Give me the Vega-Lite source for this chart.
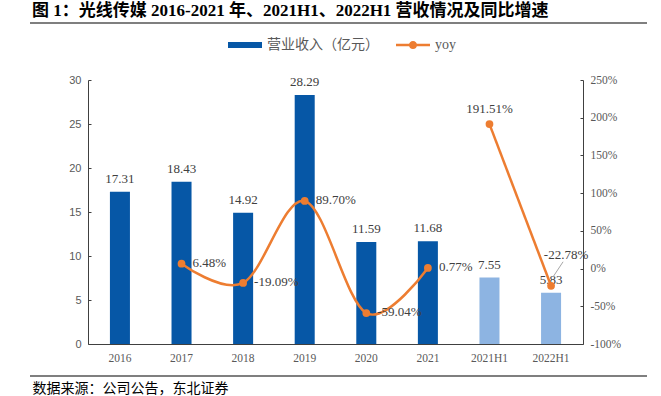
{
  "$schema": "https://vega.github.io/schema/vega-lite/v6.json",
  "width": 617,
  "height": 264,
  "autosize": {"type": "none"},
  "padding": {"left": 30, "top": 80, "right": 14, "bottom": 52},
  "background": "#ffffff",
  "title": {
    "text": "图 1：光线传媒 2016-2021 年、2021H1、2022H1 营收情况及同比增速",
    "anchor": "start",
    "frame": "group",
    "font": "Liberation Serif, Noto Sans CJK SC",
    "fontSize": 17,
    "fontWeight": "bold",
    "color": "#000000",
    "offset": 2,
    "dx": 2
  },
  "config": {
    "view": {"stroke": null},
    "axis": {"grid": false},
    "locale": {
      "number": {"decimal": ".", "thousands": ",", "grouping": [3], "currency": ["", ""], "minus": "-", "percent": "%"}
    },
    "text": {"font": "Liberation Serif", "fontSize": 13, "color": "#404040"}
  },
  "data": {
    "values": [
      {"cat": "2016", "period": "annual", "revenue": 17.31, "yoy": null},
      {"cat": "2017", "period": "annual", "revenue": 18.43, "yoy": 0.0648},
      {"cat": "2018", "period": "annual", "revenue": 14.92, "yoy": -0.1909},
      {"cat": "2019", "period": "annual", "revenue": 28.29, "yoy": 0.8970},
      {"cat": "2020", "period": "annual", "revenue": 11.59, "yoy": -0.5904},
      {"cat": "2021", "period": "annual", "revenue": 11.68, "yoy": 0.0077},
      {"cat": "2021H1", "period": "half", "revenue": 7.55, "yoy": 1.9151},
      {"cat": "2022H1", "period": "half", "revenue": 5.83, "yoy": -0.2278}
    ]
  },
  "layer": [
    {
      "encoding": {
        "x": {
          "field": "cat",
          "type": "ordinal",
          "sort": null,
          "scale": {"type": "band", "range": [58, 553], "paddingInner": 0.675, "paddingOuter": 0.356},
          "axis": {
            "title": null,
            "orient": "bottom",
            "domain": true,
            "domainColor": "#404040",
            "domainWidth": 1,
            "ticks": false,
            "labelAngle": 0,
            "labelFont": "Liberation Serif",
            "labelFontSize": 11.5,
            "labelColor": "#595959",
            "labelPadding": 8
          }
        }
      },
      "layer": [
        {
          "encoding": {
            "y": {
              "field": "revenue",
              "type": "quantitative",
              "scale": {"domain": [0, 30], "nice": false, "zero": true},
              "axis": {
                "title": null,
                "orient": "left",
                "offset": -58,
                "values": [0, 5, 10, 15, 20, 25, 30],
                "domain": true,
                "domainColor": "#404040",
                "ticks": true,
                "tickSize": -3,
                "tickColor": "#404040",
                "labelFont": "Liberation Sans",
                "labelFontSize": 11,
                "labelColor": "#595959",
                "labelPadding": 10
              }
            }
          },
          "layer": [
            {
              "mark": {"type": "bar"},
              "encoding": {
                "color": {
                  "condition": {"test": "datum.period === 'half'", "value": "#8DB4E2"},
                  "datum": "营业收入（亿元）",
                  "type": "nominal",
                  "scale": {"domain": ["营业收入（亿元）", "yoy"], "range": ["#0657A6", "#ED7D31"]},
                  "legend": {
                    "orient": "none",
                    "direction": "horizontal",
                    "legendX": 198,
                    "legendY": -52,
                    "title": null,
                    "symbolSize": 1156,
                    "labelOffset": 5,
                    "columnPadding": 17,
                    "labelFont": "Liberation Serif, Noto Sans CJK SC",
                    "labelFontSize": 14,
                    "labelColor": "#595959",
                    "labelLimit": 300,
                    "encode": {
                      "symbols": {
                        "update": {
                          "shape": {"signal": "datum.value === 'yoy' ? 'M-1,-0.07H1V0.07H-1Z M0.24,0A0.24,0.24 0 1,1 -0.24,0A0.24,0.24 0 1,1 0.24,0Z' : 'M-1,-0.17H1V0.17H-1Z'"},
                          "fill": {"signal": "datum.value === 'yoy' ? '#ED7D31' : '#0657A6'"},
                          "stroke": {"value": "transparent"},
                          "strokeWidth": {"value": 0},
                          "opacity": {"value": 1},
                          "size": {"value": 1156}
                        }
                      }
                    }
                  }
                }
              }
            },
            {
              "mark": {"type": "text", "baseline": "alphabetic", "dy": -9},
              "encoding": {
                "text": {"field": "revenue", "type": "quantitative", "format": ".2f"}
              }
            }
          ]
        },
        {
          "encoding": {
            "y": {
              "field": "yoy",
              "type": "quantitative",
              "scale": {"domain": [-1, 2.5], "nice": false, "zero": false},
              "axis": {
                "title": null,
                "orient": "right",
                "offset": -64,
                "values": [-1, -0.5, 0, 0.5, 1, 1.5, 2, 2.5],
                "format": ".0%",
                "domain": true,
                "domainColor": "#404040",
                "ticks": true,
                "tickSize": -3,
                "tickColor": "#404040",
                "labelFont": "Liberation Serif",
                "labelFontSize": 11.5,
                "labelColor": "#595959",
                "labelPadding": 10
              }
            }
          },
          "layer": [
            {
              "transform": [{"filter": "datum.yoy != null"}],
              "mark": {"type": "line", "interpolate": "cardinal", "strokeWidth": 2.5, "point": {"filled": true, "size": 60}},
              "encoding": {
                "detail": {"field": "period", "type": "nominal"},
                "color": {"datum": "yoy", "type": "nominal"}
              }
            },
            {
              "transform": [{"filter": "datum.yoy != null && datum.period === 'annual'"}],
              "mark": {"type": "text", "align": "left", "baseline": "middle", "dx": 11, "dy": -1},
              "encoding": {"text": {"field": "yoy", "type": "quantitative", "format": ".2%"}}
            },
            {
              "transform": [{"filter": "datum.cat === '2021H1'"}],
              "mark": {"type": "text", "align": "center", "baseline": "middle", "dy": -15},
              "encoding": {"text": {"field": "yoy", "type": "quantitative", "format": ".2%"}}
            },
            {
              "transform": [{"filter": "datum.cat === '2022H1'"}],
              "mark": {"type": "text", "align": "center", "baseline": "middle", "dx": 15, "dy": -31},
              "encoding": {"text": {"field": "yoy", "type": "quantitative", "format": ".2%"}}
            },
            {
              "transform": [{"filter": "datum.cat === '2022H1'"}],
              "mark": {"type": "rule", "color": "#A6A6A6", "strokeWidth": 1, "xOffset": 2, "x2Offset": 12},
              "encoding": {
                "x2": {"datum": "2022H1"},
                "y": {"datum": -0.11},
                "y2": {"datum": 0.09}
              }
            }
          ]
        }
      ],
      "resolve": {"scale": {"y": "independent"}}
    },
    {
      "mark": {"type": "point", "opacity": 0},
      "encoding": {
        "x": {
          "field": "cat",
          "type": "nominal",
          "sort": null,
          "axis": {
            "orient": "bottom",
            "offset": 32,
            "title": "数据来源：公司公告，东北证券",
            "titleAnchor": "start",
            "titleAlign": "left",
            "titleBaseline": "middle",
            "titleX": 2,
            "titleY": 12,
            "titleFont": "Liberation Serif, Noto Sans CJK SC",
            "titleFontSize": 14,
            "titleFontWeight": "normal",
            "titleColor": "#000000",
            "labels": false,
            "ticks": false,
            "domain": false
          }
        }
      }
    },
    {
      "data": {"values": [{"edge": "top"}]},
      "mark": {"type": "rule", "color": "#000000", "strokeWidth": 1.2},
      "encoding": {
        "y": {"datum": 3.2557, "type": "quantitative", "scale": {"domain": [-1, 2.5], "nice": false, "zero": false}, "axis": null}
      }
    },
    {
      "data": {"values": [{"edge": "bottom"}]},
      "mark": {"type": "rule", "color": "#000000", "strokeWidth": 1.2},
      "encoding": {
        "y": {"datum": -1.4242, "type": "quantitative", "scale": {"domain": [-1, 2.5], "nice": false, "zero": false}, "axis": null}
      }
    }
  ],
  "resolve": {"scale": {"x": "independent", "y": "independent"}}
}
